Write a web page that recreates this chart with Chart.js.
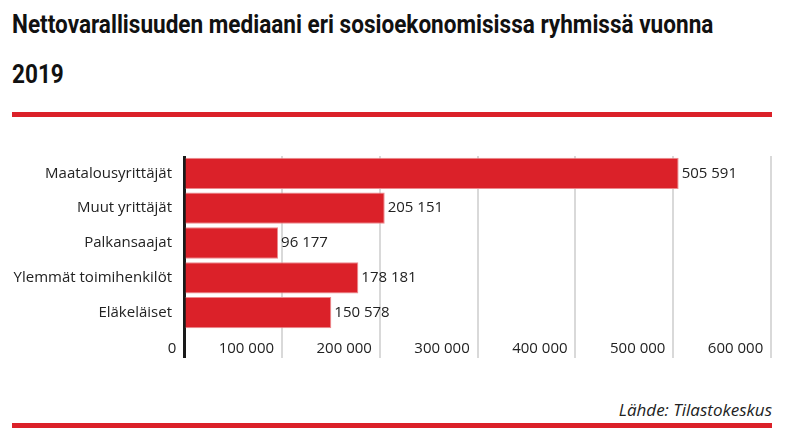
<!DOCTYPE html>
<html>
<head>
<meta charset="utf-8">
<script src="https://cdn.jsdelivr.net/npm/chart.js@4"></script>
<style>
  body { margin: 0; background: #fff; }
  #wrap { position: relative; width: 789px; height: 439px; overflow: hidden; }
  .title {
    position: absolute; left: 12px; white-space: nowrap;
    font-family: Roboto, "Liberation Sans", sans-serif;
    font-weight: bold; font-size: 25px; line-height: 50px; color: #111;
    transform-origin: left center;
  }
  .redline { position: absolute; left: 12px; width: 760px; height: 5px; background: #db2129; }
  #source {
    position: absolute; right: 17px; top: 398px;
    font-family: "Open Sans", sans-serif; font-style: italic; font-size: 17px; color: #222;
  }
  #chartBox { position: absolute; left: 0; top: 135px; width: 789px; height: 235px; }
</style>
</head>
<body>
<div id="wrap">
  <div class="title" id="t1" style="top:0">Nettovarallisuuden mediaani eri sosioekonomisissa ryhmissä vuonna</div>
  <div class="title" id="t2" style="top:50px">2019</div>
  <div class="redline" style="top:112px"></div>
  <div id="chartBox"><canvas id="barChart"></canvas></div>
  <div id="source">Lähde: Tilastokeskus</div>
  <div class="redline" style="top:423px"></div>
</div>
<script>
// Data
const groups = ['Maatalousyrittäjät', 'Muut yrittäjät', 'Palkansaajat', 'Ylemmät toimihenkilöt', 'Eläkeläiset'];
const medianWealth = [505591, 205151, 96177, 178181, 150578];
const xTicks = [0, 100000, 200000, 300000, 400000, 500000, 600000];

const red = '#db2129';
const textColor = '#222';
const fontFamily = "'Open Sans', sans-serif";

// condensed look for the title: squeeze the first line to the reference width
const t1 = document.getElementById('t1');
const squeeze = 701 / t1.offsetWidth;
t1.style.transform = 'scaleX(' + squeeze + ')';
document.getElementById('t2').style.transform = 'scaleX(' + squeeze + ')';

function fmt(v) {
    return String(v).replace(/\B(?=(\d{3})+(?!\d))/g, ' ');
}

// value labels at the end of each bar
const valueLabels = {
    id: 'valueLabels',
    afterDatasetsDraw(chart) {
        const ctx = chart.ctx;
        const meta = chart.getDatasetMeta(0);
        ctx.save();
        ctx.font = '15px ' + fontFamily;
        ctx.fillStyle = textColor;
        ctx.textBaseline = 'middle';
        ctx.textAlign = 'left';
        meta.data.forEach((bar, i) => {
            ctx.fillText(fmt(medianWealth[i]), bar.x + 3, bar.y);
        });
        ctx.restore();
    }
};

new Chart(document.getElementById('barChart'), {
    type: 'bar',
    data: {
        labels: groups,
        datasets: [{
            data: medianWealth,
            backgroundColor: red,
            borderColor: '#ec8a8e',
            borderWidth: 1,
            barPercentage: 0.9,
            categoryPercentage: 1
        }]
    },
    options: {
        indexAxis: 'y',
        responsive: true,
        maintainAspectRatio: false,
        animation: false,
        layout: { padding: { top: 10, right: 18, left: 0, bottom: 0 } },
        plugins: {
            legend: { display: false },
            tooltip: { enabled: false }
        },
        scales: {
            x: {
                min: xTicks[0],
                max: xTicks[xTicks.length - 1],
                afterBuildTicks: s => { s.ticks = xTicks.map(v => ({ value: v })); },
                afterFit: s => { s.height = 40; },
                border: { display: false },
                grid: {
                    color: c => c.tick && c.tick.value === 0 ? '#1a1a1a' : '#d9d9d9',
                    lineWidth: c => c.tick && c.tick.value === 0 ? 3 : 2,
                    tickLength: 28
                },
                ticks: {
                    align: 'end',
                    padding: -18,
                    color: textColor,
                    font: { size: 15, family: fontFamily },
                    callback: v => fmt(v) + '  '
                }
            },
            y: {
                afterFit: s => { s.width = 184; },
                border: { display: false },
                grid: { display: false, drawTicks: false },
                ticks: {
                    padding: 12,
                    color: textColor,
                    font: { size: 15, family: fontFamily }
                }
            }
        }
    },
    plugins: [valueLabels]
});
</script>
</body>
</html>
